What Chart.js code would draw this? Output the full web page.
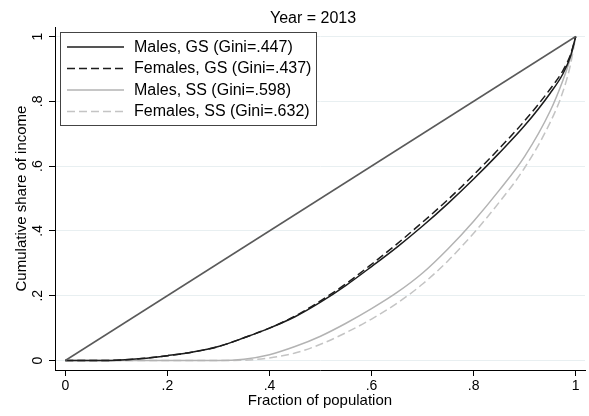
<!DOCTYPE html>
<html>
<head>
<meta charset="utf-8">
<script src="https://cdn.jsdelivr.net/npm/chart.js@4"></script>
<style>
  html, body { margin: 0; padding: 0; background: #ffffff; }
  #wrap { width: 589px; height: 416px; }
</style>
</head>
<body>
<div id="wrap"><canvas id="lorenz" width="589" height="416"></canvas></div>
<script>
// Lorenz curves: cumulative population share vs cumulative income share
const popShare   = [0, .05, .10, .15, .20, .25, .30, .35, .40, .45, .50, .55, .60, .65, .70, .75, .80, .85, .90, .95, .975, .99, 1];
const malesGS    = [0, 0, .001, .006, .015, .026, .043, .070, .100, .135, .180, .232, .290, .350, .415, .485, .560, .640, .725, .825, .885, .940, 1];
const femalesGS  = [0, 0, .001, .006, .015, .026, .043, .070, .100, .137, .184, .237, .297, .360, .427, .497, .573, .654, .740, .838, .895, .945, 1];
const malesSS    = [0, 0, 0, 0, 0, 0, 0, .004, .018, .043, .075, .115, .160, .210, .270, .345, .430, .525, .630, .770, .865, .935, 1];
const femalesSS  = [0, 0, 0, 0, 0, 0, 0, .001, .008, .023, .050, .086, .128, .177, .236, .308, .393, .488, .595, .735, .830, .915, 1];
const equalityX  = [0, 1];
const equalityY  = [0, 1];

const seriesLabels = [
  'Males, GS (Gini=.447)',
  'Females, GS (Gini=.437)',
  'Males, SS (Gini=.598)',
  'Females, SS (Gini=.632)'
];

const xTickValues = [0, .2, .4, .6, .8, 1];
const xTickLabels = ['0', '.2', '.4', '.6', '.8', '1'];
const yTickValues = [0, .2, .4, .6, .8, 1];
const yTickLabels = ['0', '.2', '.4', '.6', '.8', '1'];

const chartTitle = 'Year = 2013';
const xAxisTitle = 'Fraction of population';
const yAxisTitle = 'Cumulative share of income';

const FONT = '"Liberation Sans", Arial, Helvetica, sans-serif';

const toPoints = (xs, ys) => xs.map((x, i) => ({ x: x, y: ys[i] }));

// Titles, rotated y tick labels and the boxed legend
const decorations = {
  id: 'decorations',
  afterDraw(chart) {
    const ctx = chart.ctx;
    const ys = chart.scales.y;
    const area = chart.chartArea;
    ctx.save();
    ctx.fillStyle = '#000';

    // chart title
    ctx.font = '16px ' + FONT;
    ctx.textAlign = 'center';
    ctx.textBaseline = 'alphabetic';
    ctx.fillText(chartTitle, 313, 23);

    // x axis title
    ctx.font = '15px ' + FONT;
    ctx.fillText(xAxisTitle, (area.left + area.right) / 2, 405);

    // y tick labels, reading upwards
    ctx.font = '14px ' + FONT;
    yTickValues.forEach((v, i) => {
      ctx.save();
      ctx.translate(42, ys.getPixelForValue(v));
      ctx.rotate(-Math.PI / 2);
      ctx.textAlign = 'center';
      ctx.fillText(yTickLabels[i], 0, 0);
      ctx.restore();
    });

    // y axis title
    ctx.save();
    ctx.font = '15px ' + FONT;
    ctx.translate(25.5, (area.top + area.bottom) / 2);
    ctx.rotate(-Math.PI / 2);
    ctx.textAlign = 'center';
    ctx.fillText(yAxisTitle, 0, 0);
    ctx.restore();

    // legend box
    const bx = 60.5, by = 32.5, bw = 256, bh = 93;
    ctx.fillStyle = '#fff';
    ctx.fillRect(bx, by, bw, bh);
    ctx.strokeStyle = '#444';
    ctx.lineWidth = 1;
    ctx.strokeRect(bx, by, bw, bh);

    const items = chart.data.datasets.filter(d => d.label);
    ctx.font = '16px ' + FONT;
    ctx.textAlign = 'left';
    ctx.textBaseline = 'middle';
    items.forEach((d, i) => {
      const yRow = 47 + i * 21.5;
      ctx.save();
      ctx.strokeStyle = d.borderColor;
      ctx.lineWidth = d.borderWidth;
      ctx.setLineDash(d.borderDash || []);
      ctx.beginPath();
      ctx.moveTo(67, yRow);
      ctx.lineTo(124, yRow);
      ctx.stroke();
      ctx.restore();
      ctx.fillStyle = '#000';
      ctx.fillText(d.label, 134, yRow + 0.5);
    });
    ctx.restore();
  }
};

const lineStyle = { pointRadius: 0, borderWidth: 1.5, fill: false, cubicInterpolationMode: 'monotone' };

new Chart(document.getElementById('lorenz'), {
  type: 'line',
  data: {
    datasets: [
      Object.assign({ data: toPoints(equalityX, equalityY), borderColor: '#5a5a5a' }, lineStyle, { cubicInterpolationMode: 'default', tension: 0 }),
      Object.assign({ label: seriesLabels[0], data: toPoints(popShare, malesGS), borderColor: '#1c1c1c', borderDash: [] }, lineStyle),
      Object.assign({ label: seriesLabels[1], data: toPoints(popShare, femalesGS), borderColor: '#1c1c1c', borderDash: [8, 4] }, lineStyle),
      Object.assign({ label: seriesLabels[2], data: toPoints(popShare, malesSS), borderColor: '#b3b3b3', borderDash: [] }, lineStyle),
      Object.assign({ label: seriesLabels[3], data: toPoints(popShare, femalesSS), borderColor: '#c4c4c4', borderDash: [8, 4] }, lineStyle)
    ]
  },
  options: {
    responsive: false,
    animation: false,
    devicePixelRatio: 1,
    layout: { padding: { left: 0, right: 4, top: 27, bottom: 0 } },
    plugins: { legend: { display: false }, title: { display: false }, tooltip: { enabled: false } },
    scales: {
      x: {
        type: 'linear',
        min: -0.0202,
        max: 1.0182,
        afterBuildTicks: s => { s.ticks = xTickValues.map(v => ({ value: v })); },
        afterFit: s => { s.height = 46; },
        ticks: {
          autoSkip: false,
          maxRotation: 0,
          padding: 2,
          color: '#000',
          font: { family: FONT, size: 14 },
          callback: v => xTickLabels[xTickValues.indexOf(v)]
        },
        grid: { drawOnChartArea: false, drawTicks: true, tickLength: 6, tickColor: '#000' },
        border: { display: true, color: '#000', width: 1 }
      },
      y: {
        type: 'linear',
        min: -0.0293,
        max: 1.0293,
        afterBuildTicks: s => { s.ticks = yTickValues.map(v => ({ value: v })); },
        afterFit: s => { s.width = 55; },
        ticks: { display: false },
        grid: { color: '#e8eff1', lineWidth: 1, drawTicks: true, tickLength: 6, tickColor: '#000' },
        border: { display: true, color: '#000', width: 1 }
      }
    }
  },
  plugins: [decorations]
});
</script>
</body>
</html>
